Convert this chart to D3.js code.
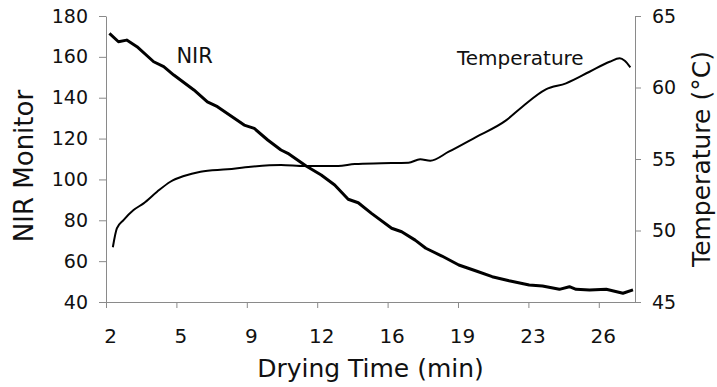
<!DOCTYPE html>
<html>
<head>
<meta charset="utf-8">
<script src="https://cdn.jsdelivr.net/npm/d3@7"></script>
<style>
  body { margin: 0; background: #fff; }
  svg { display: block; font-family: "DejaVu Sans", sans-serif; }
</style>
</head>
<body>
<svg id="chart" width="717" height="387"></svg>
<script>
// NIR monitor readings (drying time in min, monitor value)
const nirTime = [2.17, 2.62, 3.03, 3.54, 4.37, 4.87, 5.37, 6.37, 7.04, 7.54, 8.87, 9.37, 10.04, 10.7,
  11.04, 11.95, 12.7, 13.37, 14.04, 14.54, 15.2, 16.2, 16.7, 17.37, 17.9, 18.7, 19.54, 20.37,
  21.2, 22.04, 23.04, 23.7, 24.54, 25.04, 25.37, 26.04, 26.87, 27.7, 28.2]
const nirValue = [171.5, 167.4, 168.2, 165, 157.6, 155.2, 151.1, 143.8, 138, 135.6, 126.6, 125, 119.3, 114.4,
  112.8, 106.6, 102.2, 97.3, 90.3, 88.6, 83.4, 76.1, 74.4, 70.3, 66.3, 62.5, 58.1, 55.3,
  52.4, 50.4, 48.3, 47.8, 46.2, 47.5, 46.2, 45.9, 46.2, 44.3, 45.9]

// bed temperature (drying time in min, degrees C)
const tempTime = [2.34, 2.54, 2.87, 3.37, 3.87, 4.54, 5.2, 5.87, 6.7, 8.04, 9.2, 10.7, 11.87, 13.54,
  14.37, 15.7, 17.04, 17.62, 18.12, 19.04, 20.37, 21.87, 22.7, 23.87, 24.87, 26.04, 27.04,
  27.54, 27.79, 28.07]
const tempValue = [48.83, 50.15, 50.73, 51.43, 51.9, 52.71, 53.41, 53.81, 54.11, 54.28, 54.46, 54.58, 54.51, 54.51,
  54.65, 54.7, 54.74, 54.98, 54.88, 55.51, 56.52, 57.68, 58.66, 59.87, 60.29, 61.1, 61.8,
  62.04, 61.87, 61.41]

const xTickValues = [2, 5.5, 9, 12.5, 16, 19.5, 23, 26.5]
const xTickLabels = ["2", "5", "9", "12", "16", "19", "23", "26"]
const nirTicks = [40, 60, 80, 100, 120, 140, 160, 180]
const tempTicks = [45, 50, 55, 60, 65]

const margin = { left: 106, right: 82, top: 16, bottom: 85 }
const W = 717, H = 387
const axisColor = "#8a8a8a"

const svg = d3.select("#chart")

const x = d3.scaleLinear().domain([2, 28.3]).range([margin.left, W - margin.right])
const yL = d3.scaleLinear().domain([40, 180]).range([H - margin.bottom, margin.top])
const yR = d3.scaleLinear().domain([45, 65]).range([H - margin.bottom, margin.top])

// x axis
const xAxis = svg.append("g")
  .attr("transform", `translate(0,${H - margin.bottom})`)
  .call(d3.axisBottom(x).tickValues(xTickValues)
    .tickFormat((d, i) => xTickLabels[i]).tickSize(6).tickSizeOuter(0).tickPadding(21))
xAxis.select(".domain").attr("stroke", axisColor)
xAxis.selectAll(".tick line").attr("stroke", axisColor)
xAxis.selectAll(".tick text").attr("font-size", 20).attr("fill", "#111")
  .attr("font-family", "DejaVu Sans").attr("dx", 4)

// left axis
const lAxis = svg.append("g")
  .attr("transform", `translate(${margin.left},0)`)
  .call(d3.axisLeft(yL).tickValues(nirTicks).tickSize(7).tickSizeOuter(0).tickPadding(11))
lAxis.select(".domain").attr("stroke", axisColor)
lAxis.selectAll(".tick line").attr("stroke", axisColor)
lAxis.selectAll(".tick text").attr("font-size", 19).attr("fill", "#111").attr("font-family", "DejaVu Sans")

// right axis
const rAxis = svg.append("g")
  .attr("transform", `translate(${W - margin.right},0)`)
  .call(d3.axisRight(yR).tickValues(tempTicks).tickSize(6).tickSizeOuter(0).tickPadding(11))
rAxis.select(".domain").attr("stroke", axisColor)
rAxis.selectAll(".tick line").attr("stroke", axisColor)
rAxis.selectAll(".tick text").attr("font-size", 19).attr("fill", "#111").attr("font-family", "DejaVu Sans")

// curves
const nirData = nirTime.map((t, i) => [t, nirValue[i]])
const tempData = tempTime.map((t, i) => [t, tempValue[i]])

svg.append("path")
  .datum(tempData)
  .attr("fill", "none")
  .attr("stroke", "#000")
  .attr("stroke-width", 2)
  .attr("d", d3.line().x(d => x(d[0])).y(d => yR(d[1])).curve(d3.curveMonotoneX))

svg.append("path")
  .datum(nirData)
  .attr("fill", "none")
  .attr("stroke", "#000")
  .attr("stroke-width", 3)
  .attr("stroke-linejoin", "round")
  .attr("d", d3.line().x(d => x(d[0])).y(d => yL(d[1])))

// curve labels
svg.append("text")
  .attr("x", x(5.5)).attr("y", yL(157))
  .attr("font-size", 21).attr("fill", "#111")
  .text("NIR")

svg.append("text")
  .attr("x", x(19.45)).attr("y", yR(61.57))
  .attr("font-size", 20).attr("fill", "#111")
  .text("Temperature")

// axis titles
svg.append("text")
  .attr("x", (margin.left + W - margin.right) / 2).attr("y", 377)
  .attr("text-anchor", "middle").attr("font-size", 25).attr("fill", "#111")
  .text("Drying Time (min)")

svg.append("text")
  .attr("transform", "translate(33,166) rotate(-90)")
  .attr("text-anchor", "middle").attr("font-size", 26).attr("fill", "#111")
  .text("NIR Monitor")

svg.append("text")
  .attr("transform", "translate(710,159) rotate(-90)")
  .attr("text-anchor", "middle").attr("font-size", 25).attr("fill", "#111")
  .text("Temperature (°C)")
</script>
</body>
</html>
